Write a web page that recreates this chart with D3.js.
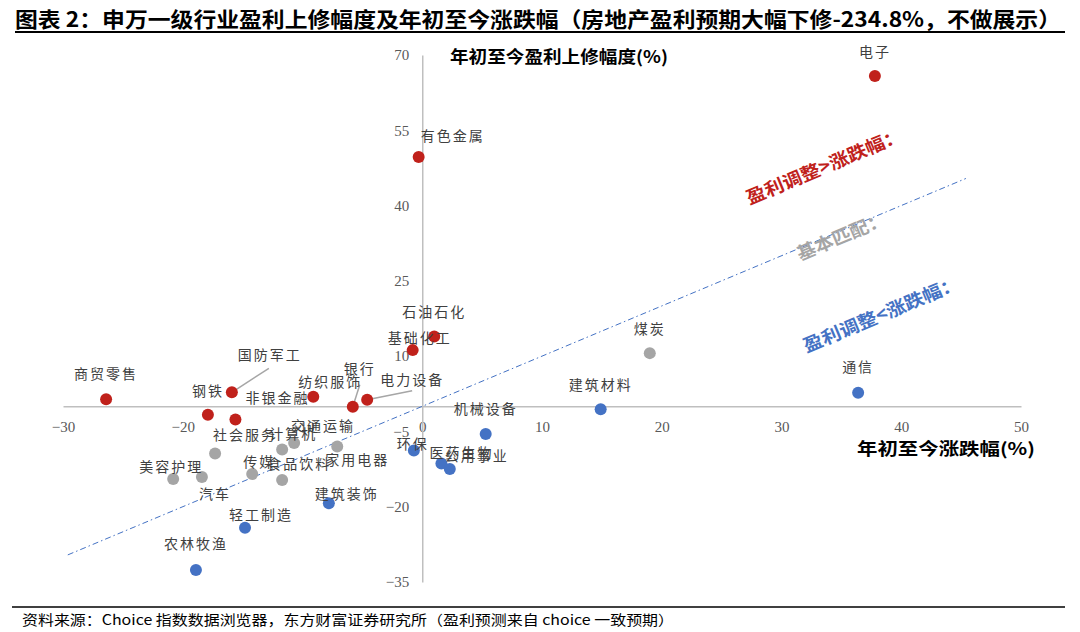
<!DOCTYPE html>
<html>
<head>
<meta charset="utf-8">
<script src="https://cdn.jsdelivr.net/npm/d3@7"></script>
<style>
  body { margin: 0; background: #fff; }
  svg { display: block; font-family: "Noto Sans CJK SC", sans-serif; }
</style>
</head>
<body>
<svg id="chart"></svg>
<script>
// 申万一级行业：年初至今涨跌幅(x) 与 盈利上修幅度(y)，单位 %
const industries = ['电子', '有色金属', '石油石化', '基础化工', '商贸零售', '国防军工', '钢铁', '非银金融', '纺织服饰', '银行', '电力设备',
    '煤炭', '社会服务', '美容护理', '汽车', '传媒', '计算机', '交通运输', '食品饮料', '家用电器',
    '通信', '建筑材料', '机械设备', '环保', '医药生物', '公用事业', '建筑装饰', '轻工制造', '农林牧渔'];
const ytdChange = [37.8, -0.3, 1.0, -0.8, -26.4, -15.9, -17.9, -15.6, -9.1, -5.8, -4.6,
    19.0, -17.3, -20.8, -18.4, -14.2, -11.7, -10.7, -11.7, -7.1,
    36.4, 14.9, 5.3, -0.7, 1.6, 2.3, -7.8, -14.8, -18.9];
const earningsRevision = [65.8, 49.7, 13.9, 11.2, 1.4, 2.8, -1.7, -2.6, 1.9, -0.1, 1.3,
    10.6, -9.4, -14.5, -14.1, -13.5, -8.6, -7.3, -14.7, -8.0,
    2.7, -0.6, -5.5, -8.8, -11.4, -12.5, -19.3, -24.2, -32.6];
// up: 盈利调整>涨跌幅, match: 基本匹配, down: 盈利调整<涨跌幅
const groups = ['up', 'up', 'up', 'up', 'up', 'up', 'up', 'up', 'up', 'up', 'up',
    'match', 'match', 'match', 'match', 'match', 'match', 'match', 'match', 'match',
    'down', 'down', 'down', 'down', 'down', 'down', 'down', 'down', 'down'];
const xTicks = [-30, -20, -10, 0, 10, 20, 30, 40, 50];
const yTicks = [70, 55, 40, 25, 10, -5, -20, -35];
const matchLine = [-29.6, 45.4]; // y = x

const width = 1080;
const height = 632;
const colors = { up: '#C0211B', match: '#A5A5A5', down: '#4472C4' };

// label offsets (px) relative to the marker, as placed in the original
const labelOffset = {
    '电子': [0, -25], '有色金属': [34, -22], '石油石化': [0, -26], '基础化工': [7, -13],
    '商贸零售': [0, -26], '国防军工': [38, -38], '钢铁': [0, -25], '非银金融': [42, -22],
    '纺织服饰': [17, -16], '银行': [7, -39], '电力设备': [45, -21],
    '煤炭': [0, -25], '社会服务': [30, -20], '美容护理': [-2, -13], '汽车': [13, 16],
    '传媒': [7, -13], '计算机': [11, -16], '交通运输': [29, -18], '食品饮料': [17, -17],
    '家用电器': [20, 13],
    '通信': [0, -27], '建筑材料': [0, -25], '机械设备': [0, -26], '环保': [-1, -8],
    '医药生物': [20, -12], '公用事业': [27, -14], '建筑装饰': [18, -10], '轻工制造': [16, -14],
    '农林牧渔': [0, -27]
};
const leaderStart = { '国防军工': [37, -24], '银行': [7, -22], '电力设备': [45, -9] };

const svg = d3.select('#chart').attr('width', width).attr('height', height);
svg.append('rect').attr('width', width).attr('height', height).attr('fill', '#fff');

const points = industries.map((name, i) => ({
    name, x: ytdChange[i], y: earningsRevision[i], group: groups[i]
}));

const scX = d3.scaleLinear().domain([-30, 50]).range([63, 1021]);
const scY = d3.scaleLinear().domain([-35, 70]).range([582, 55]);

// title
svg.append('text')
    .attr('x', 15).attr('y', 18)
    .attr('dominant-baseline', 'central')
    .attr('textLength', 1046).attr('lengthAdjust', 'spacingAndGlyphs')
    .style('font-size', '21px').style('font-weight', 700).style('fill', '#000')
    .text('图表 2：申万一级行业盈利上修幅度及年初至今涨跌幅（房地产盈利预期大幅下修-234.8%，不做展示）');
svg.append('line').attr('x1', 15).attr('x2', 1065).attr('y1', 32).attr('y2', 32)
    .attr('stroke', '#000').attr('stroke-width', 2);

// axes
const tickFont = '"Liberation Serif", "Times New Roman", serif';

const axisX = svg.append('g')
    .attr('transform', `translate(0, ${scY(0)})`)
    .call(d3.axisBottom(scX).tickValues(xTicks).tickSize(0).tickPadding(15));
const axisY = svg.append('g')
    .attr('transform', `translate(${scX(0)}, 0)`)
    .call(d3.axisLeft(scY).tickValues(yTicks).tickSize(0).tickPadding(13));

[axisX, axisY].forEach(g => {
    g.select('.domain').attr('stroke', '#BFBFBF').attr('stroke-width', 1.5);
    g.selectAll('text')
        .style('font-family', tickFont).style('font-size', '15px').style('fill', '#595959');
});

// axis titles
svg.append('text')
    .attr('x', 450).attr('y', 55).attr('dominant-baseline', 'central')
    .attr('textLength', 218).attr('lengthAdjust', 'spacingAndGlyphs')
    .style('font-size', '17px').style('font-weight', 700).style('fill', '#000')
    .text('年初至今盈利上修幅度(%)');
svg.append('text')
    .attr('x', 857).attr('y', 447).attr('dominant-baseline', 'central')
    .attr('textLength', 178).attr('lengthAdjust', 'spacingAndGlyphs')
    .style('font-size', '17px').style('font-weight', 700).style('fill', '#000')
    .text('年初至今涨跌幅(%)');

// y = x reference line
svg.append('line')
    .attr('x1', scX(matchLine[0])).attr('y1', scY(matchLine[0]))
    .attr('x2', scX(matchLine[1])).attr('y2', scY(matchLine[1]))
    .attr('stroke', '#4472C4').attr('stroke-width', 1)
    .attr('stroke-dasharray', '6,3,1.5,3');

// zone notes along the diagonal
const angle = -Math.atan((scY(0) - scY(10)) / (scX(10) - scX(0))) * 180 / Math.PI;
const notes = [
    { text: '盈利调整>涨跌幅：', cx: 824, cy: 165, len: 168, color: colors.up },
    { text: '基本匹配：', cx: 841, cy: 235, len: 95, color: colors.match },
    { text: '盈利调整<涨跌幅：', cx: 881, cy: 313, len: 168, color: colors.down }
];
notes.forEach(n => {
    svg.append('text')
        .attr('transform', `translate(${n.cx}, ${n.cy}) rotate(${angle})`)
        .attr('text-anchor', 'middle').attr('dominant-baseline', 'central')
        .attr('textLength', n.len).attr('lengthAdjust', 'spacingAndGlyphs')
        .style('font-size', '18px').style('font-weight', 700).style('fill', n.color)
        .text(n.text);
});

// leader lines
svg.selectAll('.leader')
    .data(points.filter(d => leaderStart[d.name]))
    .enter().append('line').attr('class', 'leader')
    .attr('x1', d => scX(d.x) + leaderStart[d.name][0])
    .attr('y1', d => scY(d.y) + leaderStart[d.name][1])
    .attr('x2', d => scX(d.x)).attr('y2', d => scY(d.y))
    .attr('stroke', '#A6A6A6').attr('stroke-width', 1.5);

// markers
svg.selectAll('.dot').data(points).enter().append('circle').attr('class', 'dot')
    .attr('cx', d => scX(d.x))
    .attr('cy', d => scY(d.y))
    .attr('r', 6)
    .attr('fill', d => colors[d.group]);

// data labels
svg.selectAll('.label').data(points).enter().append('text').attr('class', 'label')
    .attr('x', d => scX(d.x) + labelOffset[d.name][0])
    .attr('y', d => scY(d.y) + labelOffset[d.name][1])
    .attr('text-anchor', 'middle').attr('dominant-baseline', 'central')
    .style('font-size', '14px').style('letter-spacing', '2px').style('fill', '#404040')
    .text(d => d.name);

// source note
svg.append('line').attr('x1', 12).attr('x2', 1065).attr('y1', 607).attr('y2', 607)
    .attr('stroke', '#000').attr('stroke-width', 1.5);
svg.append('text')
    .attr('x', 22).attr('y', 619).attr('dominant-baseline', 'central')
    .attr('textLength', 652).attr('lengthAdjust', 'spacingAndGlyphs')
    .style('font-size', '14px').style('fill', '#000')
    .text('资料来源：Choice 指数数据浏览器，东方财富证券研究所（盈利预测来自 choice 一致预期）');
</script>
</body>
</html>
